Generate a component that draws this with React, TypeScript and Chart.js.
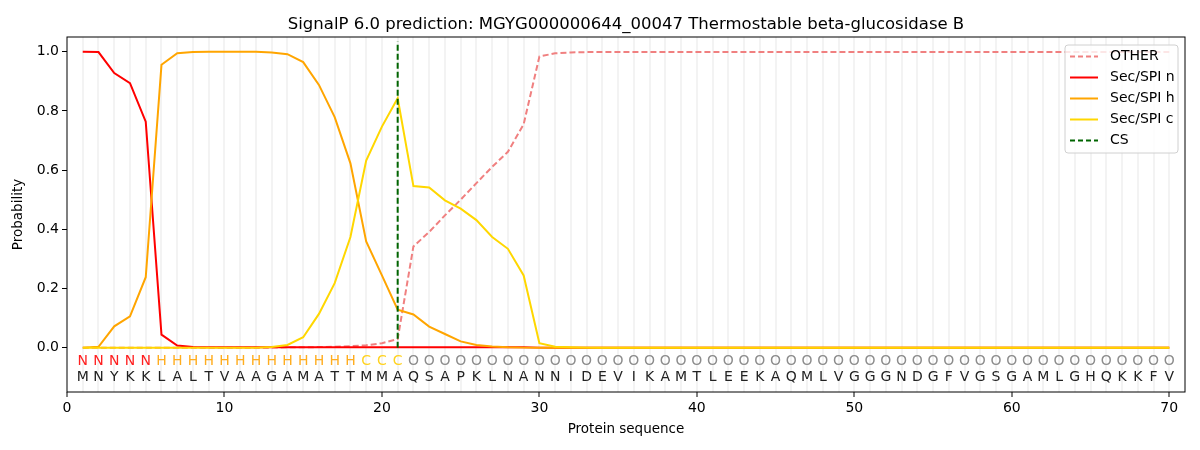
import { Chart, registerables } from 'chart.js';
import { useEffect, useRef } from 'react';

Chart.register(...registerables);

const sequence = 'MNYKKLALTVAAGAMATTMMAQSAPKLNANNIDEVIKAMTLEEKAQMLVGGGNDGFVGSGAMLGHQKKFV'.split('');
const regions = 'NNNNNHHHHHHHHHHHHHCCCOOOOOOOOOOOOOOOOOOOOOOOOOOOOOOOOOOOOOOOOOOOOOOOOO'.split('');

const otherProb = [
  0, 0, 0, 0, 0, 0, 0, 0, 0, 0,
  0, 0, 0, 0.001, 0.001, 0.002, 0.003, 0.005, 0.008, 0.015,
  0.029, 0.342, 0.391, 0.447, 0.5, 0.556, 0.611, 0.662, 0.755, 0.984,
  0.995, 0.998, 0.999, 0.999, 0.999, 0.999, 0.999, 0.999, 0.999, 0.999,
  0.999, 0.999, 0.999, 0.999, 0.999, 0.999, 0.999, 0.999, 0.999, 0.999,
  0.999, 0.999, 0.999, 0.999, 0.999, 0.999, 0.999, 0.999, 0.999, 0.999,
  0.999, 0.999, 0.999, 0.999, 0.999, 0.999, 0.999, 0.999, 0.999, 0.999,
];
const nProb = [
  1.0, 0.999, 0.928, 0.894, 0.764, 0.044, 0.007, 0.002, 0.001, 0.001,
  0.001, 0.001, 0.001, 0.001, 0.001, 0.001, 0.001, 0.001, 0.001, 0.001,
  0.001, 0.001, 0.001, 0.001, 0.001, 0.001, 0.001, 0.001, 0.001, 0,
  0, 0, 0, 0, 0, 0, 0, 0, 0, 0,
  0, 0, 0, 0, 0, 0, 0, 0, 0, 0,
  0, 0, 0, 0, 0, 0, 0, 0, 0, 0,
  0, 0, 0, 0, 0, 0, 0, 0, 0, 0,
];
const hProb = [
  0, 0.003, 0.072, 0.106, 0.238, 0.956, 0.995, 0.999, 1.0, 1.0,
  1.0, 1.0, 0.998, 0.992, 0.965, 0.888, 0.779, 0.623, 0.359, 0.244,
  0.128, 0.112, 0.071, 0.046, 0.021, 0.009, 0.004, 0.001, 0, 0,
  0, 0, 0, 0, 0, 0, 0, 0, 0, 0,
  0, 0, 0, 0, 0, 0, 0, 0, 0, 0,
  0, 0, 0, 0, 0, 0, 0, 0, 0, 0,
  0, 0, 0, 0, 0, 0, 0, 0, 0, 0,
];
const cProb = [
  0, 0, 0, 0, 0, 0, 0, 0, 0, 0,
  0, 0, 0.002, 0.009, 0.035, 0.114, 0.218, 0.374, 0.632, 0.747,
  0.843, 0.546, 0.541, 0.498, 0.47, 0.431, 0.374, 0.334, 0.244, 0.015,
  0.003, 0.001, 0, 0, 0, 0, 0, 0, 0, 0,
  0, 0, 0, 0, 0, 0, 0, 0, 0, 0,
  0, 0, 0, 0, 0, 0, 0, 0, 0, 0,
  0, 0, 0, 0, 0, 0, 0, 0, 0, 0,
];
const csPosition = 21;
const csTop = 1.035;
const xTicks = [0, 10, 20, 30, 40, 50, 60, 70];
const yTicks = [0, 0.2, 0.4, 0.6, 0.8, 1.0];

const regionColors: Record<string, string> = {
  N: '#ff2020',
  H: '#ffad1f',
  C: '#ffd21f',
  O: '#8c8c8c',
};

const FONT = "'DejaVu Sans', sans-serif";

const toPoints = (vals: number[]) => vals.map((y, i) => ({ x: i + 1, y }));

const legendItems = [
  { label: 'OTHER', color: '#f08080', dash: [5, 3] },
  { label: 'Sec/SPI n', color: '#ff0000', dash: [] },
  { label: 'Sec/SPI h', color: '#ffa500', dash: [] },
  { label: 'Sec/SPI c', color: '#ffd700', dash: [] },
  { label: 'CS', color: '#006400', dash: [5, 3] },
];

const decorPlugin = {
  id: 'decor',
  afterDatasetsDraw(chart: any) {
    const { ctx, chartArea, scales } = chart;
    const xs = scales.x;
    const ys = scales.y;
    ctx.save();
    // sequence letters
    ctx.textAlign = 'center';
    ctx.textBaseline = 'middle';
    ctx.font = `14px ${FONT}`;
    regions.forEach((r, i) => {
      ctx.fillStyle = regionColors[r];
      ctx.fillText(r, xs.getPixelForValue(i + 1), ys.getPixelForValue(-0.047));
    });
    sequence.forEach((a, i) => {
      ctx.fillStyle = '#222';
      ctx.fillText(a, xs.getPixelForValue(i + 1), ys.getPixelForValue(-0.1));
    });

    // frame
    ctx.strokeStyle = '#000';
    ctx.lineWidth = 1;
    ctx.strokeRect(chartArea.left, chartArea.top, chartArea.right - chartArea.left, chartArea.bottom - chartArea.top);

    // title
    ctx.fillStyle = '#000';
    ctx.font = `16.5px ${FONT}`;
    ctx.textBaseline = 'alphabetic';
    ctx.fillText('SignalP 6.0 prediction: MGYG000000644_00047 Thermostable beta-glucosidase B', (chartArea.left + chartArea.right) / 2, 29);

    // legend
    const lx = 1065;
    const ly = 45;
    const lw = 113;
    const lh = 108;
    ctx.fillStyle = 'rgba(255,255,255,0.8)';
    ctx.strokeStyle = '#d0d0d0';
    ctx.beginPath();
    ctx.roundRect(lx, ly, lw, lh, 3);
    ctx.fill();
    ctx.stroke();
    ctx.font = `14px ${FONT}`;
    ctx.textAlign = 'left';
    ctx.textBaseline = 'middle';
    legendItems.forEach((it, i) => {
      const y = 56.5 + i * 21;
      ctx.strokeStyle = it.color;
      ctx.lineWidth = 2;
      ctx.setLineDash(it.dash);
      ctx.beginPath();
      ctx.moveTo(lx + 5, y);
      ctx.lineTo(lx + 33, y);
      ctx.stroke();
      ctx.setLineDash([]);
      ctx.fillStyle = '#000';
      ctx.fillText(it.label, lx + 45, y);
    });
    ctx.restore();
  },
};

const App = () => {
  const chartRef = useRef<HTMLCanvasElement>(null);
  const chartInstanceRef = useRef<Chart | null>(null);

  useEffect(() => {
    document.body.style.margin = '0';
    const canvas = chartRef.current;
    if (!canvas) return;
    const ctx = canvas.getContext('2d');
    if (!ctx) return;

    if (chartInstanceRef.current) {
      chartInstanceRef.current.destroy();
    }

    const lineDs = (label: string, data: number[], color: string, order: number, dash: number[] = []) => ({
      label,
      data: toPoints(data),
      borderColor: color,
      backgroundColor: color,
      borderWidth: 2,
      borderDash: dash,
      pointRadius: 0,
      tension: 0,
      fill: false,
      order,
    });

    chartInstanceRef.current = new Chart(ctx, {
      type: 'line',
      data: {
        datasets: [
          lineDs('OTHER', otherProb, '#f08080', 4, [6, 3]),
          lineDs('Sec/SPI n', nProb, '#ff0000', 3),
          lineDs('Sec/SPI h', hProb, '#ffa500', 2),
          lineDs('Sec/SPI c', cProb, '#ffd700', 1),
          {
            ...lineDs('CS', [], '#006400', 0, [6, 3]),
            data: [
              { x: csPosition, y: 0 },
              { x: csPosition, y: csTop },
            ],
          },
        ],
      },
      options: {
        animation: false,
        responsive: false,
        maintainAspectRatio: false,
        layout: { padding: { top: 37, right: 15, left: 0, bottom: 0 } },
        plugins: {
          legend: { display: false },
          tooltip: { enabled: false },
        },
        scales: {
          x: {
            type: 'linear',
            min: 0,
            max: 71,
            afterBuildTicks: (scale: any) => {
              scale.ticks = Array.from({ length: 72 }, (_, i) => ({ value: i }));
            },
            afterFit: (scale: any) => {
              scale.height = 58;
            },
            ticks: {
              autoSkip: false,
              maxRotation: 0,
              color: '#000',
              font: { family: FONT, size: 14 },
              padding: 3,
              callback: (v: any) => (xTicks.includes(Number(v)) ? String(v) : ''),
            },
            grid: {
              color: (c: any) => (c.tick && c.tick.value >= 1 && c.tick.value <= 70 ? '#f3f3f3' : 'rgba(0,0,0,0)'),
              lineWidth: 2,
              tickLength: 5,
              tickColor: (c: any) => (c.tick && xTicks.includes(c.tick.value) ? '#000' : 'rgba(0,0,0,0)'),
              tickWidth: 1,
            },
            border: { display: false },
            title: {
              display: true,
              text: 'Protein sequence',
              color: '#000',
              font: { family: FONT, size: 13.5 },
              padding: { top: 0, bottom: 12 },
            },
          },
          y: {
            min: -0.15,
            max: 1.05,
            afterBuildTicks: (scale: any) => {
              scale.ticks = yTicks.map((v) => ({ value: v }));
            },
            afterFit: (scale: any) => {
              scale.width = 67;
            },
            ticks: {
              color: '#000',
              font: { family: FONT, size: 14 },
              padding: 3,
              callback: (v: any) => Number(v).toFixed(1),
            },
            grid: {
              display: true,
              drawOnChartArea: false,
              tickLength: 5,
              tickColor: '#000',
            },
            border: { display: false },
            title: {
              display: true,
              text: 'Probability',
              color: '#000',
              font: { family: FONT, size: 13.5 },
              padding: { top: 10, bottom: 0 },
            },
          },
        },
      },
      plugins: [decorPlugin],
    } as any);

    return () => {
      if (chartInstanceRef.current) {
        chartInstanceRef.current.destroy();
      }
    };
  }, []);

  return (
    <div style={{ width: '1200px', height: '450px', background: '#fff' }}>
      <canvas ref={chartRef} width={1200} height={450} style={{ width: '1200px', height: '450px' }}></canvas>
    </div>
  );
};

export default App;
